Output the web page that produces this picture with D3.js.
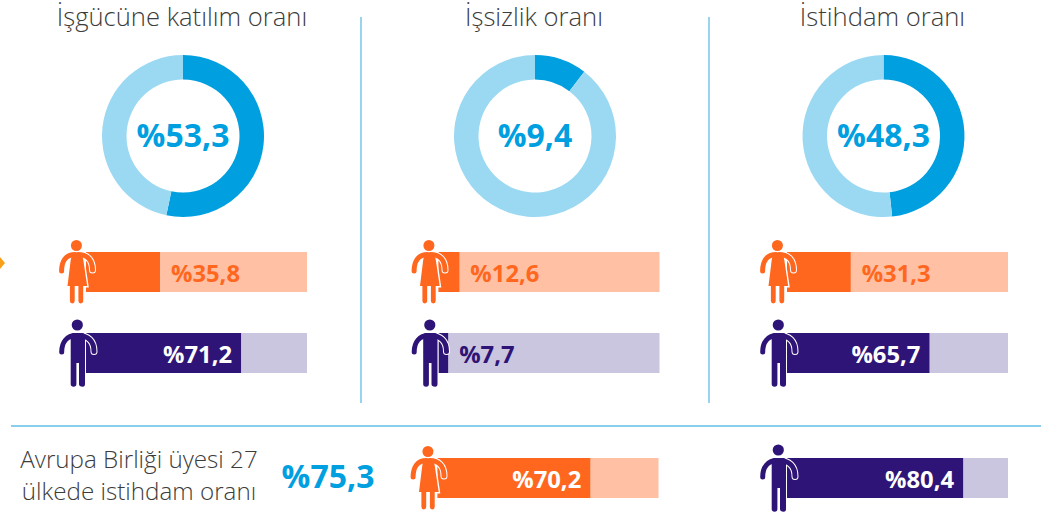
<!DOCTYPE html>
<html lang="tr"><head><meta charset="utf-8">
<style>html,body{margin:0;background:#fff}svg{display:block}
text{font-family:"Open Sans",sans-serif}
.t{font-weight:300;fill:#3c3c3b}.b{font-weight:700}</style>
<script src="https://cdnjs.cloudflare.com/ajax/libs/d3/7.8.5/d3.min.js"></script>
</head><body><svg id="c" width="1046" height="515"></svg>
<script>
const titles=["İşgücüne katılım oranı","İşsizlik oranı","İstihdam oranı"];
const donutLabels=["%53,3","%9,4","%48,3"];
const donutArcs=[53.3,10.4,48.3];
const womenValues=[35.8,12.6,31.3];
const womenLabels=["%35,8","%12,6","%31,3"];
const menValues=[71.2,7.7,65.7];
const menLabels=["%71,2","%7,7","%65,7"];
const euLabelLines=["Avrupa Birliği üyesi 27","ülkede istihdam oranı"];
const euTotalLabel="%75,3";
const euWomenValue=70.2,euWomenLabel="%70,2";
const euMenValue=80.4,euMenLabel="%80,4";

const C={blue:"#009fdf",blueL:"#9bd9f3",or:"#ff671f",orL:"#ffc0a3",pu:"#2e1476",puL:"#cbc6df",rule:"#63bde6"};
const svg=d3.select("#c");
const colX=[78,430.5,779],donutX=[183,535,883.5],BW=229,BH=40,ICON=8;

[[361,17,361,403],[709,17,709,403],[11,426,1041,426]].forEach(r=>
  svg.append("line").attr("x1",r[0]).attr("y1",r[1]).attr("x2",r[2]).attr("y2",r[3])
     .attr("stroke",C.rule).attr("stroke-width",1.3));
svg.append("path").attr("d","M-5,263L0,257L5,263L0,269Z").attr("fill","#f9a01b");

const arc=d3.arc().innerRadius(56.5).outerRadius(81);
const pie=d3.pie().sort(null).value(d=>d);
titles.forEach((t,i)=>{
  svg.append("text").attr("class","t").attr("x",donutX[i]-1).attr("y",26).attr("text-anchor","middle")
     .attr("font-size",25.6).text(t);
  const g=svg.append("g").attr("transform",`translate(${donutX[i]},136)`);
  g.selectAll("path").data(pie([donutArcs[i],100-donutArcs[i]])).join("path")
    .attr("d",arc).attr("fill",(d,j)=>j?C.blueL:C.blue);
  g.append("text").attr("class","b").attr("text-anchor","middle").attr("y",10.5)
    .attr("font-size",32).attr("fill",C.blue).text(donutLabels[i]);
});

function stroke(g,d,col,w){
  return g.append("path").attr("d",d).attr("fill","none").attr("stroke",col)
    .attr("stroke-width",w).attr("stroke-linecap","round").attr("stroke-linejoin","round");
}
function woman(g,col){
  const armR="M0,2.5C9,2.5 14.5,8 14.5,18";
  const dress="M-7,3H5L6,8L10,34.7H-11.3L-8,8Z";
  stroke(g,armR,"#fff",7);
  g.append("path").attr("d",dress).attr("fill",col).attr("stroke","#fff").attr("stroke-width",1.4);
  g.append("circle").attr("cx",-1.6).attr("cy",-6.5).attr("r",5.5).attr("fill",col);
  stroke(g,"M-3,2.5C-12,2.5 -16.4,9 -16.4,19",col,5);
  stroke(g,armR,col,5);
  stroke(g,"M-5.7,33V49M2.8,33V49",col,4.8);
}
function man(g,col){
  const armR="M0,2.5C10,2.5 16,8 16,18.5";
  stroke(g,armR,"#fff",7);
  g.append("rect").attr("x",-7.6).attr("y",1).attr("width",15.6).attr("height",52.5).attr("fill","#fff");
  g.append("circle").attr("cx",-0.7).attr("cy",-8).attr("r",5.6).attr("fill",col);
  stroke(g,"M-2,2.5C-11,2.5 -16.3,9 -16.3,19",col,5);
  stroke(g,armR,col,5);
  g.append("path").attr("d","M-7.3,3Q-7.3,0 -4,0H4Q7,0 7,3V51Q7,53.7 4.7,53.7Q1,53.7 1,51V30H-1.6V51Q-1.6,53.7 -4.4,53.7Q-7.3,53.7 -7.3,51Z").attr("fill",col);
}
function bar(x0,y,v,label,dark,light,icon){
  const x=d3.scaleLinear().domain([0,100]).range([x0,x0+BW]);
  const start=x(0)+ICON;
  svg.append("rect").attr("x",start).attr("y",y).attr("width",x(100)-start).attr("height",BH).attr("fill",light);
  svg.append("rect").attr("x",start).attr("y",y).attr("width",x(v)-start).attr("height",BH).attr("fill",dark);
  const inside=v>50;
  svg.append("text").attr("class","b").attr("x",inside?x(v)-9:x(v)+11).attr("y",y+29.5)
     .attr("text-anchor",inside?"end":"start").attr("font-size",23.8)
     .attr("fill",inside?"#fff":dark).text(label);
  icon(svg.append("g").attr("transform",`translate(${x0},${y})`),dark);
}
colX.forEach((x,i)=>{
  bar(x,252,womenValues[i],womenLabels[i],C.or,C.orL,woman);
  bar(x,333,menValues[i],menLabels[i],C.pu,C.puL,man);
});
bar(429.5,458,euWomenValue,euWomenLabel,C.or,C.orL,woman);
bar(779,458,euMenValue,euMenLabel,C.pu,C.puL,man);

euLabelLines.forEach((l,i)=>svg.append("text").attr("class","t").attr("x",139).attr("y",468+i*32)
   .attr("text-anchor","middle").attr("font-size",24.2).text(l));
svg.append("text").attr("class","b").attr("x",328).attr("y",488).attr("text-anchor","middle")
   .attr("font-size",32).attr("fill",C.blue).text(euTotalLabel);
</script></body></html>
